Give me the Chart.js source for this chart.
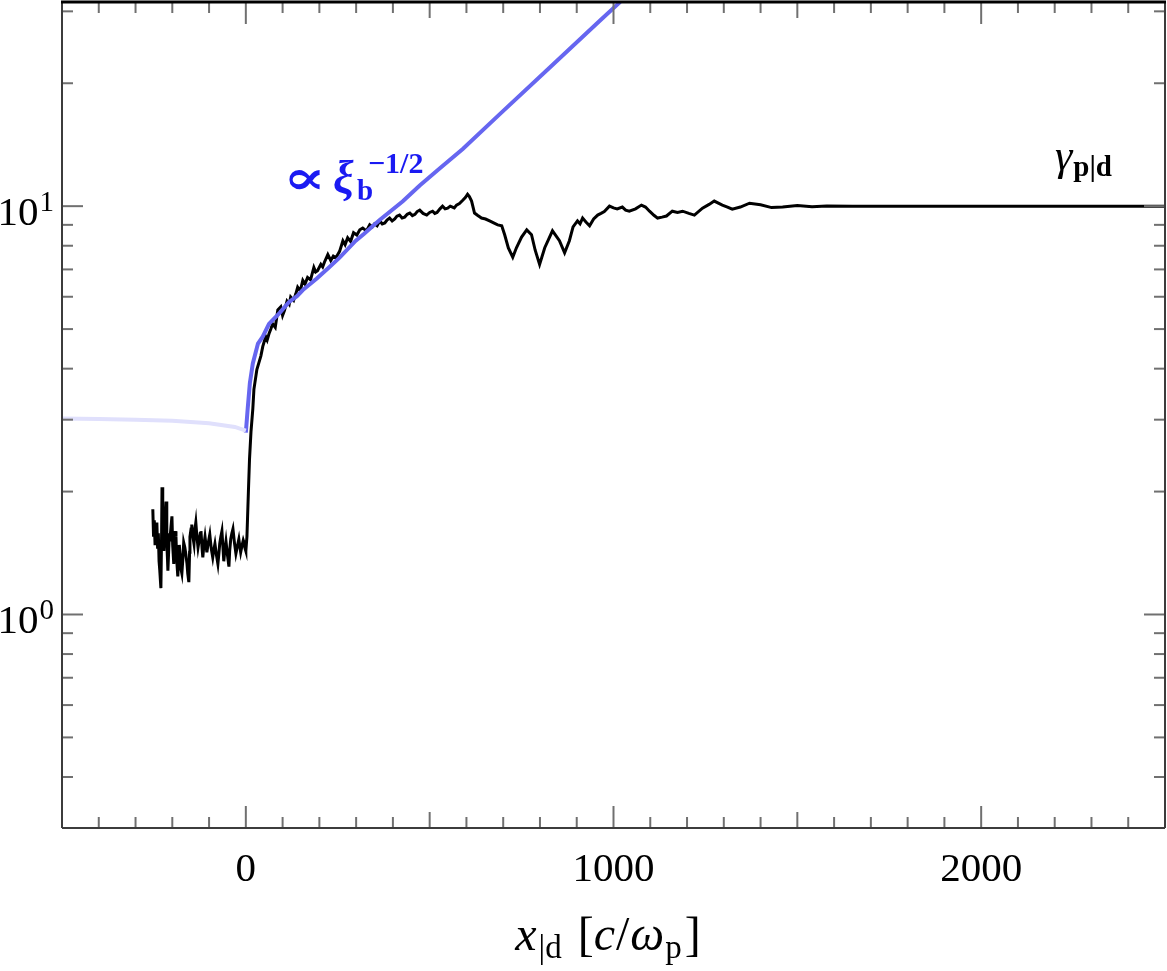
<!DOCTYPE html>
<html>
<head>
<meta charset="utf-8">
<script src="https://cdn.jsdelivr.net/npm/chart.js@4.4.0/dist/chart.umd.min.js"></script>
<style>
  html, body { margin: 0; padding: 0; background: #fff; }
  #wrap { width: 1167px; height: 971px; position: relative; }
</style>
</head>
<body>
<div id="wrap"><canvas id="chart"></canvas></div>
<script>
  // ---- data ----
  // gamma_p|d (black)
  var gammaX = [-253, -251, -249, -247, -245, -242, -240, -238, -236, -234, -231, -229, -228, -226, -224, -223,
    -221, -219, -217, -215, -213, -212, -210, -208, -207, -204, -201, -199, -196, -194, -192, -190, -188, -185,
    -183, -181, -179, -177, -174, -171, -169, -166, -163, -160, -158, -155, -153, -152, -149, -147, -144, -141,
    -139, -136, -133, -130, -127, -124, -122, -119, -117, -114, -111, -108, -106, -102, -98, -94, -90, -87, -84,
    -80, -76, -73, -71, -68, -65, -62, -60, -57, -54, -50, -46, -44, -41, -38, -35, -31, -27, -23, -19, -16, -14,
    -10, -7, -5, -2, 0, 3,
    7, 10, 14, 19, 22, 30, 35, 41, 46, 54, 58, 63, 68, 73, 80, 87, 95, 100, 105,
    112, 118, 122, 130, 136, 141, 148, 155, 161, 168, 176, 185, 190, 195, 204, 209, 214, 223, 231, 238, 245, 255, 264, 270, 277, 285, 293, 302, 310,
    318, 328, 337, 344, 350, 357, 364, 371, 378, 384, 391, 398, 405, 411, 418, 425, 432, 439, 446, 453, 460, 466, 473, 482, 492, 500, 508, 514, 520, 528, 535, 542, 549, 556, 562, 567, 573, 581, 590,
    597, 603, 608, 614, 622, 630, 641, 652, 663, 674, 685, 696, 704, 714, 726, 736, 750, 764, 777, 787, 799, 813, 834, 853, 867, 880,
    890, 902, 909, 916, 925, 935, 946, 957, 966, 975, 989, 1000, 1010, 1024, 1033, 1043, 1060, 1076, 1087, 1098, 1110, 1120, 1132, 1144, 1160, 1174, 1188, 1205, 1220, 1242,
    1260, 1274, 1296, 1310, 1323, 1345, 1370, 1400, 1430, 1460, 1500, 1540, 1580, 1650, 1800, 2000, 2200, 2500];
  var gammaY = [1.81, 1.55, 1.70, 1.49, 1.62, 1.68, 1.45, 1.58, 1.35, 1.28, 1.16, 1.60, 2.05, 1.70, 1.52, 1.43,
    1.60, 1.75, 1.89, 1.50, 1.36, 1.28, 1.42, 1.58, 1.51, 1.62, 1.74, 1.48, 1.33, 1.45, 1.60, 1.55, 1.36, 1.24,
    1.35, 1.48, 1.41, 1.30, 1.26, 1.38, 1.50, 1.46, 1.40, 1.33, 1.26, 1.20, 1.42, 1.55, 1.62, 1.66, 1.55, 1.49,
    1.60, 1.68, 1.55, 1.46, 1.52, 1.58, 1.60, 1.45, 1.38, 1.48, 1.55, 1.47, 1.42, 1.50, 1.57, 1.45, 1.38, 1.44, 1.49,
    1.40, 1.33, 1.42, 1.49, 1.55, 1.60, 1.45, 1.35, 1.44, 1.51, 1.40, 1.31, 1.43, 1.53, 1.58, 1.62, 1.50, 1.41, 1.47, 1.53, 1.46, 1.42,
    1.48, 1.52, 1.50, 1.45, 1.43, 1.55,
    2.00, 2.40, 2.80, 3.19, 3.56, 3.98, 4.12, 4.30, 4.53, 4.79, 4.70, 4.87, 5.00, 5.15, 5.05, 5.57, 5.67, 5.40, 5.55,
    5.85, 5.75, 5.99, 5.88, 6.10, 6.33, 6.20, 6.58, 6.45, 6.69, 6.60, 7.08, 6.90, 6.95, 7.20, 7.10, 7.30, 7.61, 7.36, 7.55, 7.48, 7.75, 8.23, 8.05, 8.37, 8.20, 8.61, 8.50, 8.75,
    8.84, 8.70, 9.00, 8.90, 9.05, 8.95, 9.20, 9.05, 9.10, 9.25, 9.35, 9.20, 9.30, 9.45, 9.51, 9.35, 9.40, 9.55, 9.62, 9.48, 9.55, 9.70, 9.78, 9.60, 9.51, 9.65, 9.72, 9.60, 9.65, 9.85, 10.00, 9.85, 9.89, 10.00, 9.95, 9.90, 10.06, 10.15, 10.34,
    10.50, 10.69, 10.55, 10.29, 9.62, 9.50, 9.35, 9.30, 9.20, 9.10, 9.00, 8.95, 8.51, 7.90, 7.50, 7.91, 8.40, 8.75, 8.51, 7.80, 7.20, 7.91, 8.70, 8.23, 7.69, 8.23,
    8.90, 9.20, 9.05, 9.35, 9.15, 8.95, 9.30, 9.51, 9.60, 9.70, 10.00, 9.90, 9.85, 9.95, 9.78, 9.72, 9.85, 10.06, 9.95, 9.72, 9.50, 9.35, 9.40, 9.46, 9.72, 9.65, 9.72, 9.60, 9.51, 9.89,
    10.10, 10.29, 10.06, 9.95, 9.83, 9.95, 10.17, 10.08, 9.92, 9.95, 10.04, 9.97, 10.01, 10.00, 10.00, 10.00, 10.00, 10.00];

  // propto xi_b^-1/2 (blue)
  var fitX = [0, 5, 11, 19, 33, 46, 63, 92, 117, 139, 155, 193, 226, 255, 299, 321, 364, 427, 473, 527, 590, 690, 826, 962, 1016, 1040];
  var fitY = [2.79, 3.19, 3.69, 4.12, 4.61, 4.79, 5.15, 5.48, 5.82, 6.02, 6.23, 6.65, 7.08, 7.48, 8.23, 8.55, 9.25, 10.28, 11.24, 12.36, 13.81, 16.78, 21.82, 28.4, 31.5, 33.5];

  // faint upstream part of the fit
  var faintX = [-500, -400, -300, -200, -100, -30, 0];
  var faintY = [3.02, 3.01, 3.00, 2.98, 2.94, 2.88, 2.82];

  var xTickLabels = [0, 1000, 2000];
  var yTickLabels = [1, 10];
  var yTickExp = ['0', '1'];

  var X_MIN = -500, X_MAX = 2500;
  var Y_MIN = Math.pow(10, -0.5), Y_MAX = Math.pow(10, 1.5);

  function pts(xs, ys) {
    return xs.map(function (x, i) { return { x: x, y: ys[i] }; });
  }

  var xMinor = [];
  for (var v = X_MIN; v <= X_MAX; v += 100) xMinor.push(v);
  var yMinor = [0.4, 0.5, 0.6, 0.7, 0.8, 0.9, 2, 3, 4, 5, 6, 7, 8, 9, 20, 30];

  var SERIF = '"Liberation Serif", "DejaVu Serif", serif';

  // frame, inward ticks, labels and annotations
  var decorations = {
    id: 'decorations',
    afterDraw: function (chart) {
      var ctx = chart.ctx, a = chart.chartArea;
      var xs = chart.scales.x, ys = chart.scales.y;
      ctx.save();

      function seg(x1, y1, x2, y2) {
        ctx.beginPath(); ctx.moveTo(x1, y1); ctx.lineTo(x2, y2); ctx.stroke();
      }

      ctx.strokeStyle = '#707070';
      ctx.lineWidth = 2;
      xMinor.forEach(function (t) {
        var p = xs.getPixelForValue(t);
        var len = (t % 1000 === 0) ? 22 : (t % 500 === 0 ? 16 : 11);
        seg(p, a.bottom, p, a.bottom - len);
        seg(p, a.top, p, a.top + len);
      });
      yMinor.forEach(function (t) {
        var p = ys.getPixelForValue(t);
        seg(a.left, p, a.left + 11, p);
        seg(a.right, p, a.right - 11, p);
      });
      yTickLabels.forEach(function (t) {
        var p = ys.getPixelForValue(t);
        seg(a.left, p, a.left + 21, p);
        seg(a.right, p, a.right - 21, p);
      });

      // frame
      ctx.strokeStyle = '#3c3c3c';
      ctx.lineWidth = 2;
      seg(a.left, a.top, a.left, a.bottom);
      seg(a.left, a.bottom, a.right, a.bottom);
      seg(a.right, a.top, a.right, a.bottom);
      ctx.strokeStyle = '#000';
      ctx.lineWidth = 3;
      seg(a.left - 1, a.top, a.right + 1, a.top);

      // tick labels
      ctx.fillStyle = '#000';
      ctx.textBaseline = 'alphabetic';
      ctx.textAlign = 'center';
      ctx.font = '41px ' + SERIF;
      xTickLabels.forEach(function (t) {
        ctx.fillText(String(t), xs.getPixelForValue(t), 881);
      });

      ctx.textAlign = 'right';
      yTickLabels.forEach(function (t, i) {
        var p = ys.getPixelForValue(t);
        ctx.font = '29px ' + SERIF;
        var w = ctx.measureText(yTickExp[i]).width;
        ctx.fillText(yTickExp[i], 54, p + 5);
        ctx.font = '41px ' + SERIF;
        ctx.fillText('10', 54 - w - 1, p + 19);
      });

      // pieces: [text, font, dy, extra gap]
      function run(pieces, x, y, align) {
        var total = 0;
        pieces.forEach(function (pc) { ctx.font = pc[1]; total += ctx.measureText(pc[0]).width + (pc[3] || 0); });
        var cx = align === 'center' ? x - total / 2 : x;
        ctx.textAlign = 'left';
        pieces.forEach(function (pc) {
          ctx.font = pc[1];
          ctx.fillText(pc[0], cx, y + pc[2]);
          cx += ctx.measureText(pc[0]).width + (pc[3] || 0);
        });
      }

      // x axis title
      ctx.fillStyle = '#000';
      run([
        ['x', 'italic 48px ' + SERIF, 0, 2],
        ['|d', '33px ' + SERIF, 8, 16],
        ['[', '48px ' + SERIF, 0, 0],
        ['c', 'italic 48px ' + SERIF, 0, 1],
        ['/', '48px ' + SERIF, 0, 1],
        ['\u03C9', 'italic 48px ' + SERIF, 0, 1],
        ['p', '33px ' + SERIF, 8, 3],
        [']', '48px ' + SERIF, 0, 0]
      ], 608, 950, 'center');

      // fit annotation
      ctx.fillStyle = '#1a1af2';
      ctx.textAlign = 'left';
      ctx.save();
      ctx.translate(283, 194);
      ctx.scale(1.6, 1.2);
      ctx.font = 'bold 40px "DejaVu Serif", serif';
      ctx.fillText('\u221D', 0, 0);
      ctx.restore();
      ctx.font = 'bold italic 46px ' + SERIF;
      ctx.fillText('\u03BE', 333, 193);
      ctx.font = 'bold 29px ' + SERIF;
      ctx.fillText('b', 357, 200);
      ctx.font = 'bold 30px ' + SERIF;
      ctx.fillText('\u22121/2', 368, 173);

      // series label
      ctx.fillStyle = '#000';
      run([
        ['\u03B3', 'italic 44px ' + SERIF, 0, 1],
        ['p|d', 'bold 29px ' + SERIF, 6, 0]
      ], 1055, 170, 'left');

      ctx.restore();
    }
  };

  new Chart(document.getElementById('chart'), {
    type: 'scatter',
    data: {
      datasets: [
        {
          label: 'fit upstream',
          data: pts(faintX, faintY),
          showLine: true,
          borderColor: 'rgb(224, 224, 252)',
          borderWidth: 4,
          pointRadius: 0,
          tension: 0
        },
        {
          label: 'fit',
          data: pts(fitX, fitY),
          showLine: true,
          borderColor: 'rgb(102, 102, 240)',
          borderWidth: 4,
          pointRadius: 0,
          tension: 0
        },
        {
          label: 'gamma',
          data: pts(gammaX, gammaY),
          showLine: true,
          borderColor: '#000',
          borderWidth: 3,
          pointRadius: 0,
          tension: 0
        }
      ]
    },
    options: {
      responsive: true,
      maintainAspectRatio: false,
      devicePixelRatio: 1,
      animation: false,
      layout: { padding: { left: 0, right: 2, top: 2, bottom: 0 } },
      plugins: { legend: { display: false }, tooltip: { enabled: false } },
      scales: {
        x: {
          type: 'linear',
          min: X_MIN,
          max: X_MAX,
          grid: { display: false },
          border: { display: false },
          ticks: { display: false },
          afterFit: function (scale) { scale.height = 143; }
        },
        y: {
          type: 'logarithmic',
          min: Y_MIN,
          max: Y_MAX,
          grid: { display: false },
          border: { display: false },
          ticks: { display: false },
          afterFit: function (scale) { scale.width = 62; }
        }
      }
    },
    plugins: [decorations]
  });
</script>
</body>
</html>
